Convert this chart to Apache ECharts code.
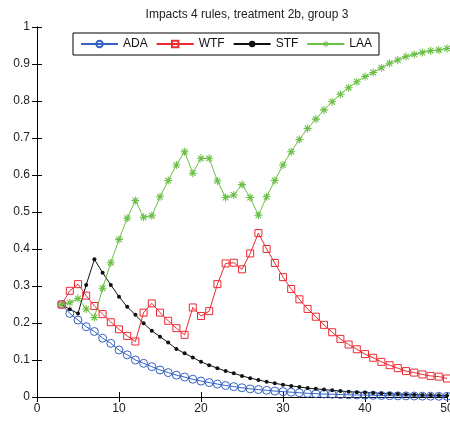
<!DOCTYPE html>
<html>
<head>
<meta charset="utf-8">
<script src="https://cdn.jsdelivr.net/npm/echarts@6/dist/echarts.min.js"></script>
<style>html,body{margin:0;padding:0;background:#fff;}#c{width:450px;height:421px;}</style>
</head>
<body>
<div id="c"></div>
<script>
var xs = [3,4,5,6,7,8,9,10,11,12,13,14,15,16,17,18,19,20,21,22,23,24,25,26,27,28,29,30,31,32,33,34,35,36,37,38,39,40,41,42,43,44,45,46,47,48,49,50];
var ADA = [0.250,0.226,0.208,0.190,0.177,0.159,0.145,0.127,0.114,0.100,0.091,0.082,0.073,0.066,0.059,0.054,0.048,0.043,0.039,0.035,0.031,0.028,0.025,0.022,0.020,0.018,0.016,0.0145,0.013,0.0115,0.010,0.009,0.008,0.0075,0.0067,0.006,0.0055,0.005,0.0045,0.004,0.0036,0.0032,0.003,0.0027,0.0024,0.0022,0.002,0.0018];
var WTF = [0.250,0.287,0.305,0.274,0.246,0.224,0.202,0.183,0.165,0.150,0.228,0.253,0.228,0.206,0.186,0.168,0.242,0.219,0.232,0.305,0.361,0.363,0.345,0.388,0.443,0.400,0.362,0.324,0.292,0.264,0.238,0.217,0.195,0.175,0.157,0.142,0.129,0.116,0.106,0.095,0.086,0.078,0.070,0.066,0.061,0.057,0.055,0.050];
var STF = [0.250,0.237,0.226,0.303,0.372,0.336,0.303,0.271,0.244,0.222,0.199,0.179,0.163,0.147,0.130,0.118,0.107,0.095,0.086,0.078,0.070,0.064,0.057,0.051,0.046,0.041,0.037,0.033,0.030,0.027,0.024,0.022,0.020,0.018,0.016,0.0145,0.013,0.012,0.011,0.0095,0.0086,0.0078,0.007,0.0063,0.0057,0.0051,0.0046,0.0041];
var LAA = [0.250,0.255,0.266,0.238,0.215,0.294,0.363,0.426,0.483,0.531,0.486,0.490,0.541,0.585,0.627,0.663,0.605,0.645,0.645,0.584,0.539,0.546,0.574,0.539,0.491,0.541,0.585,0.627,0.663,0.696,0.726,0.751,0.776,0.798,0.818,0.836,0.852,0.866,0.877,0.890,0.902,0.911,0.920,0.926,0.931,0.936,0.938,0.942];
var names = ['ADA','WTF','STF','LAA'];

function pairs(v){ return xs.map(function(x,i){ return [x, v[i]]; }); }

var star = 'path://M0,4.35L10,4.35L10,5.65L0,5.65Z' +
           'M4.35,0L5.65,0L5.65,10L4.35,10Z' +
           'M2,1L9,8L8,9L1,2Z' +
           'M8,1L9,2L2,9L1,8Z';
var blue = '#3563c4', red = '#ec2a32', black = '#111111', green = '#6abf45';

var chart = echarts.init(document.getElementById('c'), null, {renderer:'canvas'});
var axisCommon = {
  type:'value', min:0,
  axisLine:{show:true, lineStyle:{color:'#000', width:1}},
  axisTick:{show:true, inside:true, length:5, lineStyle:{color:'#000'}},
  splitLine:{show:false}
};
chart.setOption({
  animation:false,
  backgroundColor:'#fff',
  title:{text:'Impacts 4 rules, treatment 2b, group 3', left:242, textAlign:'center', top:4,
    textStyle:{fontFamily:'Liberation Sans, Arial', fontSize:12, fontWeight:'normal', color:'#222'}},
  grid:{left:37, right:3, top:27, bottom:24, containLabel:false, outerBoundsMode:'none'},
  legend:{
    data:names, left:73, top:33, orient:'horizontal',
    itemWidth:37, itemHeight:8, itemGap:8, padding:[5,7,5,7],
    borderColor:'#000', borderWidth:1, backgroundColor:'#fff',
    textStyle:{fontFamily:'Liberation Sans, Arial', fontSize:12, color:'#111'}
  },
  xAxis:[
    Object.assign({}, axisCommon, {max:50, interval:10, position:'bottom',
      axisLabel:{color:'#222', fontFamily:'Liberation Sans, Arial', fontSize:12, margin:6}}),
    Object.assign({}, axisCommon, {max:50, interval:10, position:'top', axisLabel:{show:false}})
  ],
  yAxis:[
    Object.assign({}, axisCommon, {max:1, interval:0.1, position:'left',
      axisLabel:{color:'#222', fontFamily:'Liberation Sans, Arial', fontSize:12, margin:7,
        formatter:function(v){ return String(Math.round(v*10)/10); }}}),
    Object.assign({}, axisCommon, {max:1, interval:0.1, position:'right', axisLabel:{show:false}})
  ],
  series:[
    {name:'ADA', type:'line', data:pairs(ADA), symbol:'circle', symbolSize:8,
      lineStyle:{color:blue, width:1}, itemStyle:{color:'rgba(0,0,0,0)', borderColor:blue, borderWidth:1}, color:blue},
    {name:'WTF', type:'line', data:pairs(WTF), symbol:'rect', symbolSize:7,
      lineStyle:{color:red, width:1}, itemStyle:{color:'rgba(0,0,0,0)', borderColor:red, borderWidth:1}, color:red},
    {name:'STF', type:'line', data:pairs(STF), symbol:'circle', symbolSize:4,
      lineStyle:{color:black, width:1}, itemStyle:{color:black, borderColor:black, borderWidth:0}, color:black},
    {name:'LAA', type:'line', data:pairs(LAA), symbol:star, symbolSize:8,
      lineStyle:{color:green, width:1}, itemStyle:{color:green, borderWidth:0}, color:green}
  ]
});
</script>
</body>
</html>
